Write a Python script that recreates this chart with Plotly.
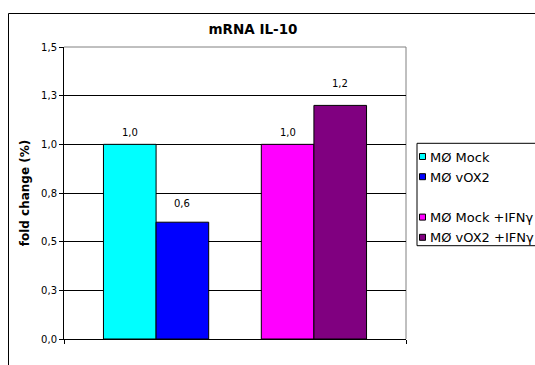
import plotly.graph_objects as go

# Data
series_names = ["MØ Mock", "MØ vOX2", "", "MØ Mock +IFNγ", "MØ vOX2 +IFNγ"]
series_values = [1.0, 0.6, None, 1.0, 1.2]
series_colors = ["#00FFFF", "#0000FF", "rgba(0,0,0,0)", "#FF00FF", "#800080"]
groups = [0]
tick_values = [0, 0.25, 0.5, 0.75, 1.0, 1.25, 1.5]
tick_labels = ["0,0", "0,3", "0,5", "0,8", "1,0", "1,3", "1,5"]
chart_title = "mRNA IL-10"
y_title = "fold change (%)"

# Layout constants (pixels)
W, H = 535, 365
ML, MR, MT, MB = 64, 129, 47, 26
PW, PH = W - ML - MR, H - MT - MB
BARGAP = 1.5 / 6.5
label_lift = [11.5, 18.5, 0, 11.5, 22]  # px between bar top and value label centre
FONT = "DejaVu Sans, Verdana, sans-serif"


def px_x(x):
    return (x - ML) / PW


def px_y(y):
    return (H - MB - y) / PH


fig = go.Figure()
for name, val, col in zip(series_names, series_values, series_colors):
    fig.add_trace(go.Bar(
        x=groups, y=[val], name=name,
        marker=dict(color=col, line=dict(color="black" if val is not None else "rgba(0,0,0,0)", width=1)),
        showlegend=False, hoverinfo="skip",
    ))

# value labels above bars
n = len(series_names)
bw = (1 - BARGAP) / n
annotations = []
for i, (val, lift) in enumerate(zip(series_values, label_lift)):
    if val is None:
        continue
    xc = groups[0] - (1 - BARGAP) / 2 + (i + 0.5) * bw
    annotations.append(dict(
        x=xc, y=val, xref="x", yref="y", text=f"{val:.1f}".replace(".", ","),
        showarrow=False, yanchor="middle", yshift=lift,
        font=dict(family=FONT, size=10, color="black"),
    ))

# legend drawn as a boxed key
shapes = []
leg_left, leg_top, leg_bottom = 417, 143.3, 245.7
shapes.append(dict(type="rect", xref="paper", yref="paper",
                   x0=px_x(leg_left), x1=px_x(W + 20), y0=px_y(leg_bottom), y1=px_y(leg_top),
                   line=dict(color="black", width=1), fillcolor="white", layer="above"))
for i, (name, col) in enumerate(zip(series_names, series_colors)):
    if not name:
        continue
    cy = 157 + i * 20.2
    shapes.append(dict(type="rect", xref="paper", yref="paper",
                       x0=px_x(419.5), x1=px_x(425.5), y0=px_y(cy + 2.5), y1=px_y(cy - 3.5),
                       line=dict(color="black", width=1), fillcolor=col, layer="above"))
    annotations.append(dict(
        x=px_x(428), y=px_y(cy), xref="paper", yref="paper", text=name,
        showarrow=False, xanchor="left", yanchor="middle",
        font=dict(family=FONT, size=13, color="black"),
    ))

# plot-area border (top and right) in grey
shapes.append(dict(type="line", xref="paper", yref="paper", x0=0, x1=1, y0=1, y1=1,
                   line=dict(color="#808080", width=1), layer="above"))
shapes.append(dict(type="line", xref="paper", yref="paper", x0=1, x1=1, y0=0, y1=1,
                   line=dict(color="#808080", width=1), layer="below"))

# outer chart frame
shapes.append(dict(type="rect", xref="paper", yref="paper",
                   x0=px_x(8.5), x1=px_x(W + 30), y0=px_y(H + 30), y1=px_y(13.5),
                   line=dict(color="black", width=1), fillcolor="rgba(0,0,0,0)", layer="above"))

fig.update_layout(
    width=W, height=H,
    margin=dict(l=ML, r=MR, t=MT, b=MB, pad=0),
    paper_bgcolor="white", plot_bgcolor="white",
    barmode="group", bargap=BARGAP, bargroupgap=0,
    showlegend=False,
    title=dict(text=chart_title, x=253 / W, xanchor="center", y=1 - 29.5 / H, yanchor="middle",
               xref="container", yref="container",
               font=dict(family=FONT, size=13.5, color="black", weight="bold")),
    xaxis=dict(range=[-0.5, 0.5], tickvals=[-0.5, 0.5], showticklabels=False,
               ticks="outside", ticklen=4, tickcolor="black", showgrid=False,
               showline=True, linecolor="black", linewidth=1, zeroline=False, fixedrange=True),
    yaxis=dict(range=[0, 1.5], tickvals=tick_values, ticktext=tick_labels,
               ticks="outside", ticklen=4, tickcolor="black",
               showgrid=True, gridcolor="black", gridwidth=1,
               showline=True, linecolor="black", linewidth=1, zeroline=False,
               tickfont=dict(family=FONT, size=10, color="black"),
               title=dict(text=y_title, standoff=8,
                          font=dict(family=FONT, size=12, color="black", weight="bold")),
               fixedrange=True),
    annotations=annotations,
    shapes=shapes,
)

fig.write_html("out.html")
